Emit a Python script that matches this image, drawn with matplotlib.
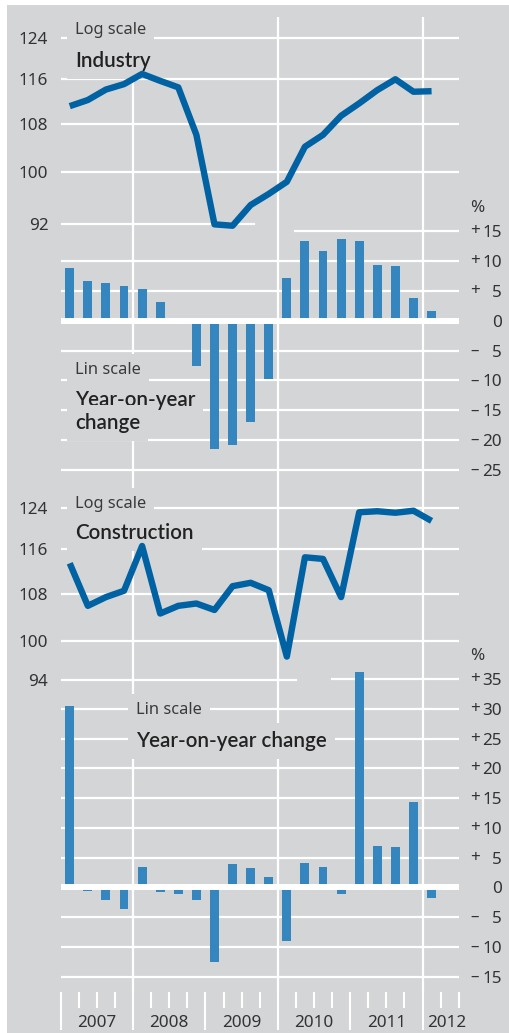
#!/usr/bin/env python3
import matplotlib
matplotlib.use('Agg')
import matplotlib.pyplot as plt
import matplotlib.transforms as mtransforms
from matplotlib.patches import Rectangle
from matplotlib.ticker import NullLocator, FixedLocator

W, H = 510, 1033
BG = '#d4d5d7'
LINE_BLUE = '#0062a3'
BAR_BLUE = '#3585bf'
TXT = '#333333'
FS = 12.3

plt.rcParams['font.family'] = ['Noto Sans', 'DejaVu Sans']

# quarterly data, 2007 Q1 .. 2012 Q1
years = ['2007', '2008', '2009', '2010', '2011', '2012']
industry_index = [111.1, 112.2, 114.1, 115.1, 117.0, 115.7, 114.5, 106.1, 91.9, 91.7, 94.8,
                  96.5, 98.4, 104.1, 106.1, 109.4, 111.6, 114.0, 116.0, 113.7, 113.8]
industry_yoy = [8.8, 6.6, 6.3, 5.8, 5.3, 3.2, 0.2, -7.5, -21.4, -20.8, -17.0,
                -9.7, 7.2, 13.3, 11.6, 13.6, 13.3, 9.4, 9.2, 3.8, 1.7]
construction_index = [113.4, 105.9, 107.4, 108.5, 116.6, 104.6, 105.9, 106.3, 105.2, 109.3, 109.9,
                      108.6, 97.6, 114.5, 114.2, 107.4, 123.1, 123.3, 123.0, 123.4, 121.4]
construction_yoy = [30.4, -0.7, -2.1, -3.6, 3.4, -0.85, -1.2, -2.1, -12.6, 3.9, 3.2,
                    1.8, -9.1, 4.1, 3.4, -1.2, 36.2, 6.9, 6.7, 14.3, -1.85]

industry_log_ticks = [124, 116, 108, 100, 92]
industry_pct_ticks = [15, 10, 5, 0, -5, -10, -15, -20, -25]
construction_log_ticks = [124, 116, 108, 100, 94]
construction_pct_ticks = [35, 30, 25, 20, 15, 10, 5, 0, -5, -10, -15]

X0, X1 = 60.7, 458.7   # plot area in pixels
N_Q = 22               # 2007 Q1 .. 2012 Q2


def rect(x0, y0, x1, y1):
    return [x0 / W, 1 - y1 / H, (x1 - x0) / W, (y1 - y0) / H]


def bare(ax):
    ax.set_facecolor('none')
    for s in ax.spines.values():
        s.set_visible(False)
    ax.set_xlim(0, N_Q)
    ax.set_xticks([])
    ax.tick_params(axis='y', length=0)


def sign_of(v):
    return '+' if v > 0 else ('\u2013' if v < 0 else '')


fig = plt.figure(figsize=(W / 100, H / 100), dpi=100)
fig.patches.append(Rectangle((7 / W, 0), 1 - 7 / W, 1 - 5 / H, transform=fig.transFigure,
                             facecolor=BG, edgecolor='none', zorder=-10))

# background axes: vertical gridlines + quarter ticks
ax_bg = fig.add_axes(rect(X0, 17, X1, 991.7), zorder=0)
ax_bg.set_facecolor('none')
for s in ax_bg.spines.values():
    s.set_visible(False)
ax_bg.set_xlim(0, N_Q)
ax_bg.set_ylim(0, 1)
ax_bg.set_yticks([])
for q in (4, 12, 20):
    ax_bg.axvline(q, color='white', lw=1.6)
ax_bg.xaxis.set_major_locator(FixedLocator([0, 4, 8, 12, 16, 20]))
ax_bg.xaxis.set_minor_locator(FixedLocator([1, 2, 3, 5, 6, 7, 9, 10, 11, 13, 14, 15,
                                            17, 18, 19, 21, 22]))
ax_bg.tick_params(axis='x', which='major', direction='out', length=27.5, width=1.5,
                  color='white', labelbottom=False)
ax_bg.tick_params(axis='x', which='minor', direction='out', length=11.7, width=1.5,
                  color='white', labelbottom=False)
year_pos = [2, 6, 10, 14, 18, 21.35]
for yr, xp in zip(years, year_pos):
    ax_bg.text(xp, -0.0321, yr, transform=ax_bg.get_xaxis_transform(), ha='center',
               va='center', fontsize=FS, color=TXT)


def panel(y_top, y_bot, log_lim, pct_lim, idx, yoy, log_ticks, pct_ticks,
          log_short, pct_short):
    # log-scale grid
    g1 = fig.add_axes(rect(X0, y_top, X1, y_bot), zorder=1)
    bare(g1)
    g1.set_yscale('log')
    g1.set_ylim(*log_lim)
    g1.yaxis.set_minor_locator(NullLocator())
    g1.set_yticks(log_ticks)
    g1.set_yticklabels([str(t) for t in log_ticks])
    g1.tick_params(axis='y', which='both', length=0, pad=8.9, labelsize=FS, labelcolor=TXT)
    for t in log_ticks:
        if t == log_ticks[-1]:
            g1.axhline(t, xmin=0, xmax=log_short, color='white', lw=1.6)
        else:
            g1.axhline(t, color='white', lw=1.6)

    # percent grid
    g2 = fig.add_axes(rect(X0, y_top, X1, y_bot), zorder=1)
    bare(g2)
    g2.set_ylim(*pct_lim)
    g2.yaxis.tick_right()
    g2.set_yticks(pct_ticks)
    g2.set_yticklabels([str(abs(t)) for t in pct_ticks])
    g2.tick_params(axis='y', length=0, pad=31.2, labelsize=FS, labelcolor=TXT)
    for lab in g2.get_yticklabels():
        lab.set_ha('right')
    tr = mtransforms.blended_transform_factory(g2.transAxes, g2.transData)
    for t in pct_ticks:
        if t == pct_ticks[0]:
            g2.axhline(t, xmin=pct_short, xmax=1, color='white', lw=1.6)
        elif t != 0:
            g2.axhline(t, color='white', lw=1.6)
        s = sign_of(t)
        if s:
            g2.text(1.0284, t, s, transform=tr, ha='left', va='center',
                    fontsize=FS, color=TXT)
    g2.text(1.0284, pct_ticks[0] + 23 / ((y_bot - y_top) / (pct_lim[1] - pct_lim[0])), '%',
            transform=tr, ha='left', va='center', fontsize=FS, color=TXT)

    # data
    xs = [i + 0.5 for i in range(len(idx))]
    d2 = fig.add_axes(rect(X0, y_top, X1, y_bot), zorder=2)
    bare(d2)
    d2.set_yticks([])
    d2.set_ylim(*pct_lim)
    d2.bar(xs, yoy, width=0.49, color=BAR_BLUE, zorder=2)
    d2.axhline(0, color='white', lw=4.3, zorder=3)

    d1 = fig.add_axes(rect(X0, y_top, X1, y_bot), zorder=3)
    bare(d1)
    d1.set_yscale('log')
    d1.set_ylim(*log_lim)
    d1.yaxis.set_minor_locator(NullLocator())
    d1.set_yticks([])
    d1.plot(xs, idx, color=LINE_BLUE, lw=4.6, solid_joinstyle='round',
            solid_capstyle='butt')


panel(17, 487, (60.29, 128.19), (-27.83, 50.83), industry_index, industry_yoy,
      industry_log_ticks, industry_pct_ticks, 0.486, 0.589)
panel(487, 985, (57.56, 128.2), (-16.42, 67.28), construction_index, construction_yoy,
      construction_log_ticks, construction_pct_ticks, 0.591, 0.682)


def label(x, y, s, size, weight='normal', color=TXT, padpx=8, family=None):
    fig.text(x / W, 1 - y / H, s, ha='left', va='center', fontsize=size,
             fontweight=weight, color=color, zorder=1.5, family=family,
             bbox=dict(boxstyle='square,pad=%.2f' % (padpx * 0.72 / size),
                       facecolor=BG, edgecolor='none'))


TITLE = dict(weight='semibold', color='#222222', family=['Lato', 'DejaVu Sans'])
label(75, 30, 'Log scale', 11.8, color='#3a3a3a')
label(75, 61, 'Industry', 14.8, **TITLE)
label(75, 370, 'Lin scale', 11.8, color='#3a3a3a')
label(75, 400, 'Year-on-year', 14.8, **TITLE)
label(75, 423, 'change', 14.8, **TITLE)
label(75, 504, 'Log scale', 11.8, color='#3a3a3a')
label(75, 533, 'Construction', 14.8, **TITLE)
label(136, 710, 'Lin scale', 11.8, color='#3a3a3a')
label(136, 741, 'Year-on-year change', 14.8, **TITLE)

fig.savefig('out.png', dpi=100)
